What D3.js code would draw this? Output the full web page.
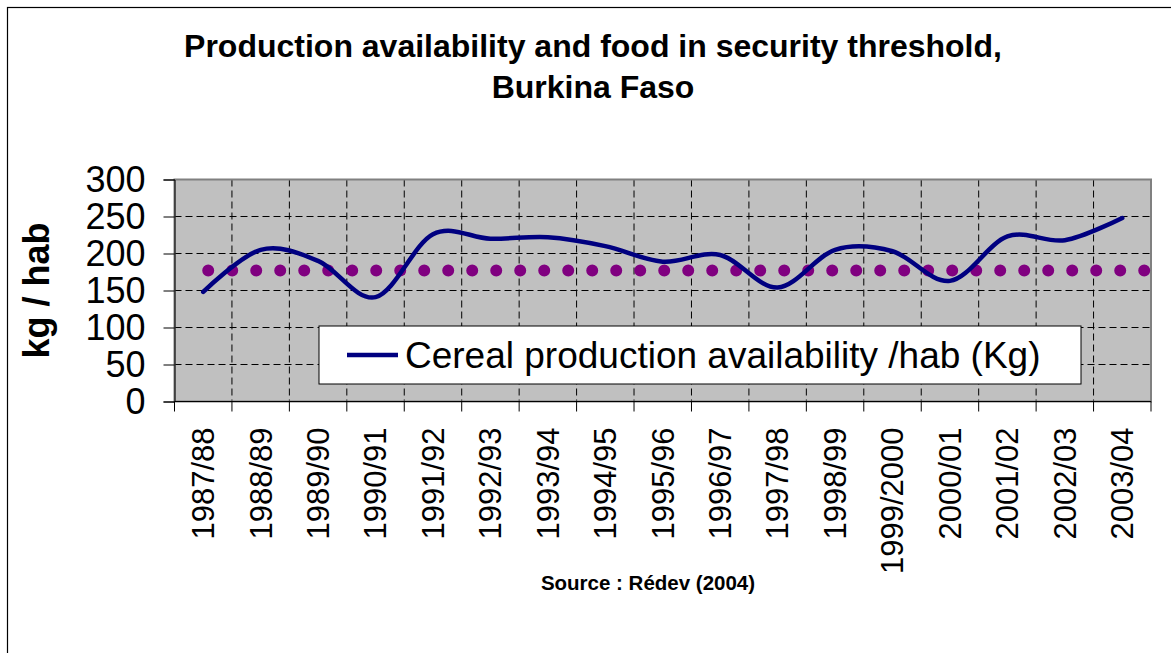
<!DOCTYPE html>
<html>
<head>
<meta charset="utf-8">
<script src="https://cdn.jsdelivr.net/npm/d3@7"></script>
<style>
  body { margin: 0; background: #fff; }
  svg { display: block; font-family: Arial, "Liberation Sans", sans-serif; }
</style>
</head>
<body>
<svg id="chart" width="1171" height="653"></svg>
<script>
// data
const seasons = ["1987/88", "1988/89", "1989/90", "1990/91", "1991/92", "1992/93",
  "1993/94", "1994/95", "1995/96", "1996/97", "1997/98", "1998/99", "1999/2000",
  "2000/01", "2001/02", "2002/03", "2003/04"];
const cerealPerHab = [148, 205, 190, 141, 226, 220, 222, 210, 189, 198, 154, 205, 203, 163, 223, 218, 248];
const threshold = 177;
const yTicks = [0, 50, 100, 150, 200, 250, 300];

const svg = d3.select("#chart"),
  margin = { top: 179.5, right: 20, bottom: 251.5, left: 174.5 },
  width = 1151 - margin.left,
  height = 401.5 - margin.top;

// outer frame (only left/top edges show in the picture)
svg.append("rect")
  .attr("x", 7.5).attr("y", 7.5)
  .attr("width", 1200).attr("height", 700)
  .attr("fill", "none").attr("stroke", "#000").attr("stroke-width", 1.2);

svg.append("text")
  .attr("x", 593).attr("y", 57)
  .attr("text-anchor", "middle")
  .style("font-size", "32px").style("font-weight", "bold")
  .text("Production availability and food in security threshold,");
svg.append("text")
  .attr("x", 593).attr("y", 98)
  .attr("text-anchor", "middle")
  .style("font-size", "32px").style("font-weight", "bold")
  .text("Burkina Faso");

const g = svg.append("g")
  .attr("transform", "translate(" + margin.left + "," + margin.top + ")");

const x = d3.scaleBand().domain(seasons).range([0, width]).paddingInner(0).paddingOuter(0);
const y = d3.scaleLinear().domain([0, 300]).range([height, 0]);
const cx = (d) => x(d) + x.bandwidth() / 2;

g.append("rect")
  .attr("width", width).attr("height", height)
  .attr("fill", "#c0c0c0");

// dashed grid
g.append("g")
  .selectAll("line")
  .data(yTicks.slice(1, -1))
  .enter()
  .append("line")
  .attr("x1", 0).attr("x2", width)
  .attr("y1", (d) => y(d)).attr("y2", (d) => y(d))
  .attr("stroke", "#000").attr("stroke-width", 1)
  .attr("stroke-dasharray", "7,4");

g.append("g")
  .selectAll("line")
  .data(seasons.slice(1))
  .enter()
  .append("line")
  .attr("x1", (d) => x(d)).attr("x2", (d) => x(d))
  .attr("y1", 0).attr("y2", height)
  .attr("stroke", "#000").attr("stroke-width", 1)
  .attr("stroke-dasharray", "7,4");

g.append("rect")
  .attr("width", width).attr("height", height)
  .attr("fill", "none").attr("stroke", "#808080").attr("stroke-width", 2);

// axes
const yAxis = g.append("g")
  .call(d3.axisLeft(y).tickValues(yTicks).tickSize(11).tickPadding(18));
yAxis.select(".domain").attr("stroke", "#000");
yAxis.selectAll("text")
  .style("font-size", "36px").style("font-family", "Arial, 'Liberation Sans', sans-serif")
  .attr("fill", "#000");

const xAxis = g.append("g")
  .attr("transform", "translate(0," + height + ")");
xAxis.append("line")
  .attr("x1", 0).attr("x2", width)
  .attr("stroke", "#000");
xAxis.selectAll(".tick")
  .data(seasons.concat(["end"]))
  .enter()
  .append("line")
  .attr("class", "tick")
  .attr("x1", (d, i) => (i < seasons.length ? x(d) : width))
  .attr("x2", (d, i) => (i < seasons.length ? x(d) : width))
  .attr("y1", 0).attr("y2", 10)
  .attr("stroke", "#000");
xAxis.selectAll(".lbl")
  .data(seasons)
  .enter()
  .append("text")
  .attr("class", "lbl")
  .attr("transform", (d) => "translate(" + cx(d) + ",26) rotate(-90)")
  .attr("dy", "0.35em")
  .attr("text-anchor", "end")
  .style("font-size", "31px")
  .text((d) => d);

svg.append("text")
  .attr("transform", "translate(" + 49 + "," + (margin.top + height / 2) + ") rotate(-90)")
  .attr("text-anchor", "middle")
  .style("font-size", "36px").style("font-weight", "bold")
  .text("kg / hab");

// threshold: dotted line
g.append("line")
  .attr("x1", cx(seasons[0])).attr("x2", width)
  .attr("y1", y(threshold)).attr("y2", y(threshold))
  .attr("stroke", "#800080").attr("stroke-width", 12)
  .attr("stroke-linecap", "round")
  .attr("stroke-dasharray", "0,24")
  .attr("stroke-dashoffset", -5);

// cereal availability: smoothed line
const line = d3.line()
  .x((d, i) => cx(seasons[i]))
  .y((d) => y(d))
  .curve(d3.curveCatmullRom.alpha(0));
g.append("path")
  .datum(cerealPerHab)
  .attr("d", line)
  .attr("fill", "none")
  .attr("stroke", "#000080").attr("stroke-width", 4.5)
  .attr("stroke-linecap", "round");

// legend
const lg = svg.append("g").attr("transform", "translate(319,326)");
lg.append("rect")
  .attr("width", 762).attr("height", 58)
  .attr("fill", "#fff").attr("stroke", "#000").attr("stroke-width", 1);
lg.append("line")
  .attr("x1", 28).attr("x2", 79).attr("y1", 29).attr("y2", 29)
  .attr("stroke", "#000080").attr("stroke-width", 4.5);
lg.append("text")
  .attr("x", 86).attr("y", 42)
  .style("font-size", "37px")
  .text("Cereal production availability /hab (Kg)");

svg.append("text")
  .attr("x", 648).attr("y", 590)
  .attr("text-anchor", "middle")
  .style("font-size", "20.5px").style("font-weight", "bold")
  .text("Source : Rédev (2004)");
</script>
</body>
</html>
